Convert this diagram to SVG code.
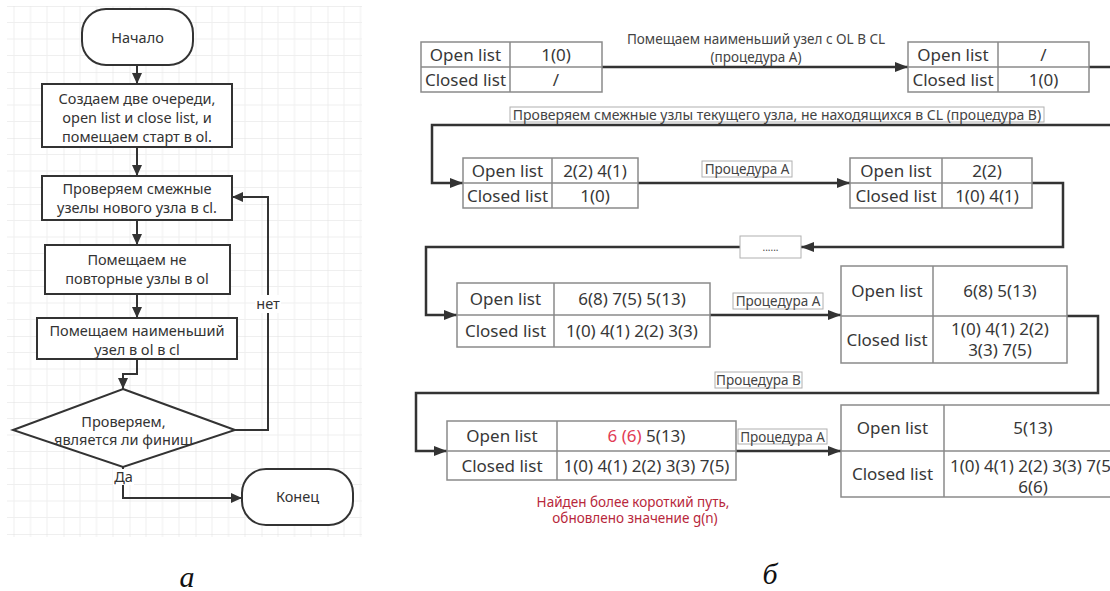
<svg xmlns="http://www.w3.org/2000/svg" width="1110" height="591" viewBox="0 0 1110 591">
<defs>
<pattern id="grid" patternUnits="userSpaceOnUse" x="-2.5" y="6" width="66" height="66">
<path d="M16.5 0V66M33 0V66M49.5 0V66M0 16.5H66M0 33H66M0 49.5H66" stroke="#efefef" stroke-width="1" fill="none"/>
<path d="M0 0V66M0 0H66" stroke="#e0e0e0" stroke-width="1" fill="none"/>
</pattern>
<marker id="fa" markerUnits="userSpaceOnUse" markerWidth="11" markerHeight="10" refX="11" refY="5" orient="auto">
<path d="M0 0L11 5L0 10z" fill="#333"/>
</marker>
<marker id="ra" markerUnits="userSpaceOnUse" markerWidth="13" markerHeight="10" refX="13" refY="5" orient="auto">
<path d="M0 0L13 5L0 10z" fill="#333"/>
</marker>
<style>
.fnode{fill:#fff;stroke:#333;stroke-width:2}
.ft{font-family:"Noto Sans","Open Sans",sans-serif;font-size:14.5px;fill:#333;text-anchor:middle}
.fl{fill:none;stroke:#333;stroke-width:2}
.tb{fill:#fff;stroke:#8a8a8a;stroke-width:1.5}
.tt{font-family:"Noto Sans","Open Sans",sans-serif;font-size:17px;fill:#383838;text-anchor:middle}
.rl{fill:none;stroke:#333;stroke-width:2.5}
.lb{fill:#fff;stroke:#b0b0b0;stroke-width:1}
.lt{font-family:"Noto Sans","Open Sans",sans-serif;font-size:13.5px;fill:#444;text-anchor:middle}
.red{fill:#e23c55}
.note{font-family:"Noto Sans","Open Sans",sans-serif;font-size:13.5px;fill:#b8283c;text-anchor:middle}
.cap{font-family:"Liberation Serif","Times New Roman",serif;font-style:italic;font-size:30px;fill:#111;text-anchor:middle}
</style>
</defs>
<rect width="1110" height="591" fill="#fff"/>
<rect x="7" y="6" width="355" height="531" fill="url(#grid)"/>

<g id="connectors">
<path class="fl" d="M137 65V84" marker-end="url(#fa)"/>
<path class="fl" d="M137 147V176" marker-end="url(#fa)"/>
<path class="fl" d="M137 220V245" marker-end="url(#fa)"/>
<path class="fl" d="M137 294V318" marker-end="url(#fa)"/>
<path class="fl" d="M137 359V374H123V389" marker-end="url(#fa)"/>
<path class="fl" d="M235 430H268V197H232" marker-end="url(#fa)"/>
<path class="fl" d="M123 467V498H242" marker-end="url(#fa)"/>

<path class="rl" d="M602 67H908" marker-end="url(#ra)"/>
<path class="rl" d="M1089 67H1112"/>
<path class="rl" d="M1112 125H432V183H463" marker-end="url(#ra)"/>
<path class="rl" d="M638 183H850" marker-end="url(#ra)"/>
<path class="rl" d="M1032 183H1063V247H801" marker-end="url(#ra)"/>
<path class="rl" d="M740 247H426V315H457" marker-end="url(#ra)"/>
<path class="rl" d="M710 315H841" marker-end="url(#ra)"/>
<path class="rl" d="M1067 316H1098V393H416V451H447" marker-end="url(#ra)"/>
<path class="rl" d="M736 451H841" marker-end="url(#ra)"/>
</g>

<g id="start">
<rect class="fnode" x="82" y="9" width="111" height="56" rx="24"/>
<text class="ft" x="137.5" y="43">Начало</text>
</g>
<g id="create">
<rect class="fnode" x="42" y="84" width="190" height="63"/>
<text class="ft" x="137" y="104">Создаем две очереди,</text>
<text class="ft" x="137" y="123">open list и close list, и</text>
<text class="ft" x="137" y="142">помещаем старт в ol.</text>
</g>
<g id="check-adjacent">
<rect class="fnode" x="42" y="176" width="190" height="44"/>
<text class="ft" x="137" y="194">Проверяем смежные</text>
<text class="ft" x="137" y="213">узелы нового узла в cl.</text>
</g>
<g id="put-nonrepeat">
<rect class="fnode" x="45" y="245" width="185" height="49"/>
<text class="ft" x="137" y="265">Помещаем не</text>
<text class="ft" x="137" y="284">повторные узлы в ol</text>
</g>
<g id="put-smallest">
<rect class="fnode" x="37" y="318" width="200" height="41"/>
<text class="ft" x="137" y="336">Помещаем наименьший</text>
<text class="ft" x="137" y="355">узел в ol в cl</text>
</g>
<g id="decision">
<path class="fnode" d="M123 389L235 430L123 467L13 430Z"/>
<text class="ft" x="123.5" y="427">Проверяем,</text>
<text class="ft" x="123.5" y="445">является ли финиш</text>
</g>
<g id="label-no">
<rect x="255" y="295" width="26" height="18" fill="#fff"/>
<text class="ft" x="268" y="309">нет</text>
</g>
<g id="label-yes">
<rect x="113" y="469" width="21" height="16" fill="#fff"/>
<text class="ft" x="123.5" y="482">Да</text>
</g>
<g id="end">
<rect class="fnode" x="242" y="469" width="111" height="56" rx="24"/>
<text class="ft" x="297.5" y="502">Конец</text>
</g>

<g id="table1">
<rect class="tb" x="421" y="42" width="181" height="50"/>
<path class="tb" d="M510 42V92M421 67H602"/>
<text class="tt" x="465.5" y="61">Open list</text>
<text class="tt" x="556" y="61">1(0)</text>
<text class="tt" x="465.5" y="86">Closed list</text>
<text class="tt" x="556" y="86">/</text>
</g>
<g id="label-a1">
<text class="lt" x="756" y="44">Помещаем наименьший узел с OL B CL</text>
<text class="lt" x="756" y="62">(процедура А)</text>
</g>
<g id="table2">
<rect class="tb" x="908" y="42" width="181" height="50"/>
<path class="tb" d="M998 42V92M908 67H1089"/>
<text class="tt" x="953" y="61">Open list</text>
<text class="tt" x="1043.5" y="61">/</text>
<text class="tt" x="953" y="86">Closed list</text>
<text class="tt" x="1043.5" y="86">1(0)</text>
</g>
<g id="label-b1">
<rect class="lb" x="510" y="107" width="534" height="15"/>
<text class="lt" x="777" y="119.5" style="font-size:14px">Проверяем смежные узлы текущего узла, не находящихся в CL (процедура В)</text>
</g>
<g id="table3">
<rect class="tb" x="463" y="158" width="175" height="50"/>
<path class="tb" d="M552 158V208M463 183H638"/>
<text class="tt" x="507.5" y="176.5">Open list</text>
<text class="tt" x="595" y="176.5">2(2) 4(1)</text>
<text class="tt" x="507.5" y="201.5">Closed list</text>
<text class="tt" x="595" y="201.5">1(0)</text>
</g>
<g id="label-a2">
<rect class="lb" x="702" y="161" width="90" height="16"/>
<text class="lt" x="747" y="174">Процедура А</text>
</g>
<g id="table4">
<rect class="tb" x="850" y="158" width="182" height="50"/>
<path class="tb" d="M942 158V208M850 183H1032"/>
<text class="tt" x="896" y="176.5">Open list</text>
<text class="tt" x="987" y="176.5">2(2)</text>
<text class="tt" x="896" y="201.5">Closed list</text>
<text class="tt" x="987" y="201.5">1(0) 4(1)</text>
</g>
<g id="ellipsis">
<rect class="lb" x="740" y="236" width="61" height="22"/>
<text class="lt" x="770.5" y="251" style="font-size:10px">......</text>
</g>
<g id="table5">
<rect class="tb" x="457" y="283" width="253" height="64"/>
<path class="tb" d="M554 283V347M457 315H710"/>
<text class="tt" x="505.5" y="305">Open list</text>
<text class="tt" x="632" y="305">6(8) 7(5) 5(13)</text>
<text class="tt" x="505.5" y="337">Closed list</text>
<text class="tt" x="632" y="337">1(0) 4(1) 2(2) 3(3)</text>
</g>
<g id="label-a3">
<rect class="lb" x="733" y="293" width="90" height="16"/>
<text class="lt" x="778" y="306">Процедура А</text>
</g>
<g id="table6">
<rect class="tb" x="841" y="266" width="226" height="97"/>
<path class="tb" d="M933 266V363M841 316H1067"/>
<text class="tt" x="887" y="297">Open list</text>
<text class="tt" x="1000" y="297">6(8) 5(13)</text>
<text class="tt" x="887" y="345.5">Closed list</text>
<text class="tt" x="1000" y="335">1(0) 4(1) 2(2)</text>
<text class="tt" x="1000" y="356">3(3) 7(5)</text>
</g>
<g id="label-b2">
<rect class="lb" x="715" y="372" width="87" height="16"/>
<text class="lt" x="758.5" y="385">Процедура В</text>
</g>
<g id="table7">
<rect class="tb" x="447" y="421" width="289" height="59"/>
<path class="tb" d="M557 421V480M447 451H736"/>
<text class="tt" x="502" y="442">Open list</text>
<text class="tt" x="646.5" y="442"><tspan class="red">6 (6)</tspan> 5(13)</text>
<text class="tt" x="502" y="471.5">Closed list</text>
<text class="tt" x="646.5" y="471.5">1(0) 4(1) 2(2) 3(3) 7(5)</text>
</g>
<g id="note">
<text class="note" x="633" y="507">Найден более короткий путь,</text>
<text class="note" x="635" y="523">обновлено значение g(n)</text>
</g>
<g id="label-a4">
<rect class="lb" x="738" y="429" width="89" height="15"/>
<text class="lt" x="782.5" y="441.5">Процедура А</text>
</g>
<g id="table8">
<rect class="tb" x="841" y="405" width="281" height="92"/>
<path class="tb" d="M944 405V497M841 451H1122"/>
<text class="tt" x="892.5" y="434">Open list</text>
<text class="tt" x="1033" y="434">5(13)</text>
<text class="tt" x="892.5" y="480">Closed list</text>
<text class="tt" x="1033" y="472">1(0) 4(1) 2(2) 3(3) 7(5)</text>
<text class="tt" x="1033" y="493">6(6)</text>
</g>

<text class="cap" x="187" y="587">а</text>
<text class="cap" x="770" y="584">б</text>
</svg>
